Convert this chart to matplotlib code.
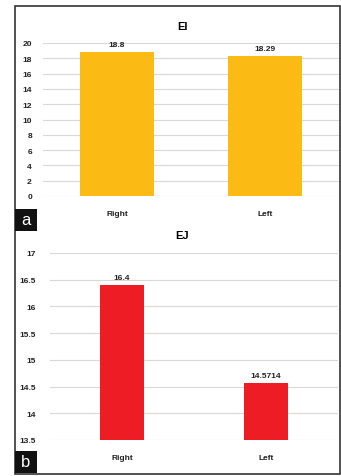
import matplotlib.pyplot as plt
from matplotlib.patches import Rectangle

categories = ['Right', 'Left']
ei_values = [18.8, 18.29]
ej_values = [16.4, 14.5714]
ei_labels = ['18.8', '18.29']
ej_labels = ['16.4', '14.5714']

W, H = 341, 477
fig = plt.figure(figsize=(W / 100, H / 100), dpi=100)
plt.rcParams['font.family'] = ['Liberation Sans', 'DejaVu Sans']


def px_axes(x0, y0, x1, y1):
    return fig.add_axes([x0 / W, 1 - y1 / H, (x1 - x0) / W, (y1 - y0) / H])


def style(ax, ticks):
    ax.set_yticks(ticks)
    ax.grid(axis='y', color='#d9d9d9', linewidth=0.8)
    ax.set_axisbelow(True)
    for s in ax.spines.values():
        s.set_visible(False)
    ax.tick_params(length=0, labelsize=6, colors='#222222')
    for lab in ax.get_xticklabels() + ax.get_yticklabels():
        lab.set_fontweight('bold')
    ax.set_xlim(-0.5, 1.5)


# panel a
ax1 = px_axes(43, 44, 339, 197)
ax1.bar(categories, ei_values, width=0.5, color='#fbbb14')
ax1.set_ylim(0, 20)
style(ax1, range(0, 21, 2))
ax1.tick_params(axis='x', pad=10)
ax1.tick_params(axis='y', pad=8)
for i, (v, t) in enumerate(zip(ei_values, ei_labels)):
    ax1.text(i, v + 0.5, t, ha='center', va='bottom', fontsize=6, fontweight='bold', color='#222222')
ax1.text(0.47, 1.08, 'EI', transform=ax1.transAxes, ha='center', va='bottom', fontsize=8, fontweight='bold')

# panel b
ax2 = px_axes(50, 254, 338, 441)
ax2.bar(categories, ej_values, width=0.31, color='#ee1c24')
ax2.set_ylim(13.5, 17)
style(ax2, [13.5, 14, 14.5, 15, 15.5, 16, 16.5, 17])
ax2.yaxis.set_major_formatter(plt.FuncFormatter(lambda v, p: f'{v:g}'))
ax2.tick_params(axis='x', pad=10)
ax2.tick_params(axis='y', pad=10)
for i, (v, t) in enumerate(zip(ej_values, ej_labels)):
    ax2.text(i, v + 0.07, t, ha='center', va='bottom', fontsize=6, fontweight='bold', color='#222222')
ax2.text(0.46, 1.07, 'EJ', transform=ax2.transAxes, ha='center', va='bottom', fontsize=8, fontweight='bold')

# frame and panel letters
fig.patches.append(Rectangle((15 / W, 1 - 475 / H), 325 / W, 468 / H, transform=fig.transFigure,
                             fill=False, edgecolor='#333333', linewidth=1.2))
for letter, y0 in [('a', 210), ('b', 452)]:
    fig.patches.append(Rectangle((15 / W, 1 - (y0 + 22) / H), 22 / W, 22 / H, transform=fig.transFigure,
                                 facecolor='#111111', edgecolor='none'))
    fig.text(26 / W, 1 - (y0 + 11) / H, letter, color='white', fontsize=12, ha='center', va='center')

fig.savefig('out.png', dpi=100)
